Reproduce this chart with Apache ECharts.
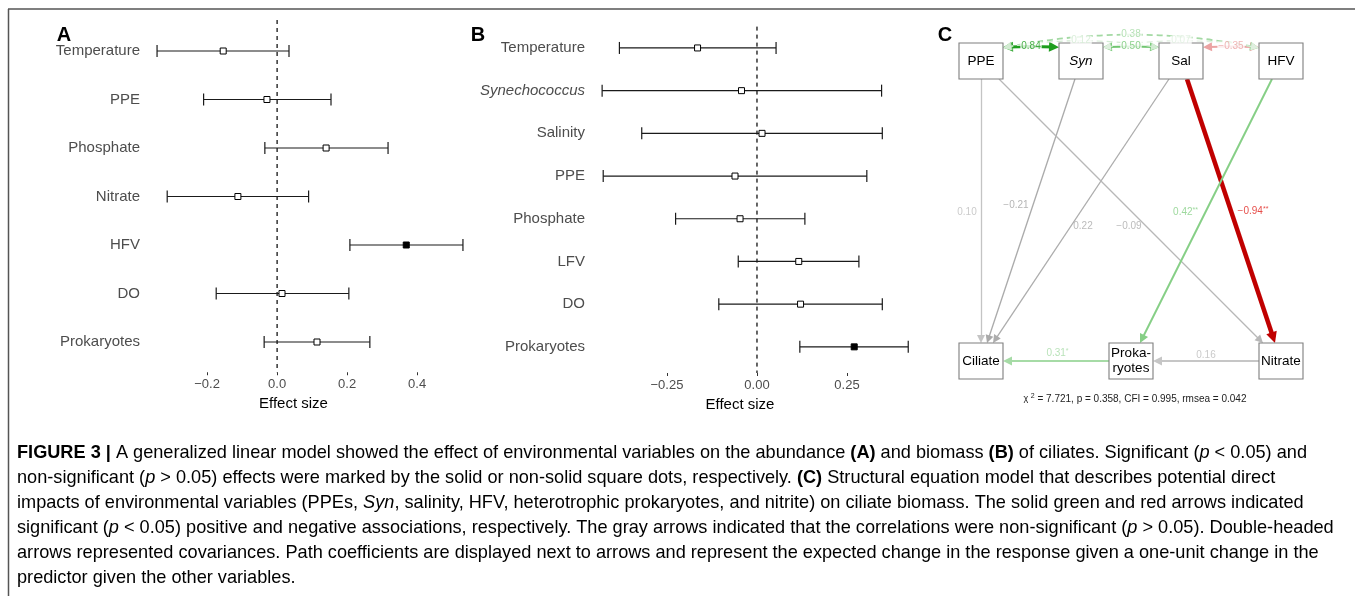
<!DOCTYPE html>
<html>
<head>
<meta charset="utf-8">
<script src="https://cdn.jsdelivr.net/npm/echarts@6/dist/echarts.min.js"></script>
<style>
html,body{margin:0;padding:0;background:#fff;}
#main{width:1355px;height:596px;}
</style>
</head>
<body>
<div id="main"></div>
<script>
// ---- panel A : GLM on ciliate abundance
var catsA = ['Temperature', 'PPE', 'Phosphate', 'Nitrate', 'HFV', 'DO', 'Prokaryotes'];
var lowA  = [-0.343, -0.210, -0.035, -0.314, 0.208, -0.174, -0.037];
var estA  = [-0.154, -0.029,  0.140, -0.112, 0.369,  0.014,  0.114];
var highA = [ 0.034,  0.154,  0.317,  0.090, 0.531,  0.205,  0.265];
var sigA  = [0, 0, 0, 0, 1, 0, 0];
var ticksA = [-0.2, 0, 0.2, 0.4];

// ---- panel B : GLM on ciliate biomass
var catsB = ['Temperature', 'Synechococcus', 'Salinity', 'PPE', 'Phosphate', 'LFV', 'DO', 'Prokaryotes'];
var lowB  = [-0.382, -0.430, -0.320, -0.427, -0.226, -0.052, -0.106, 0.119];
var estB  = [-0.165, -0.043,  0.014, -0.061, -0.047,  0.116,  0.121, 0.270];
var highB = [ 0.053,  0.346,  0.348,  0.305,  0.133,  0.283,  0.348, 0.420];
var sigB  = [0, 0, 0, 0, 0, 0, 0, 1];
var ticksB = [-0.25, 0, 0.25];

// ---- panel C : SEM
var nodeNames  = ['PPE', 'Syn', 'Sal', 'HFV', 'Ciliate', 'Prokaryotes', 'Nitrate'];
var nodeLabels = ['PPE', '{i|Syn}', 'Sal', 'HFV', 'Ciliate', 'Proka-\nryotes', 'Nitrate'];
var nodeX = [0, 1, 2, 3, 0, 1.5, 3];
var nodeY = [3, 3, 3, 3, 0, 0, 0];

var pathFrom  = ['PPE', 'Syn', 'Sal', 'PPE', 'Sal', 'HFV', 'Prokaryotes', 'Nitrate'];
var pathTo    = ['Ciliate', 'Ciliate', 'Ciliate', 'Nitrate', 'Nitrate', 'Prokaryotes', 'Ciliate', 'Prokaryotes'];
var pathCoef  = [0.10, -0.21, 0.22, -0.09, -0.94, 0.42, 0.31, 0.16];
var pathStars = ['', '', '', '', '**', '**', '*', ''];

var covFrom = ['PPE', 'Syn', 'Sal', 'PPE', 'PPE', 'Syn'];
var covTo   = ['Syn', 'Sal', 'HFV', 'HFV', 'Sal', 'HFV'];
var covCoef = [0.84, 0.50, -0.35, 0.38, 0.12, 0.07];

var fitStats = 'p = 0.358, CFI = 0.995, rmsea = 0.042';
var chiSq = '7.721';

// styles for the SEM edges (colour, width, arrow, label placement)
var pathStyle = [
  {c: '#c4c4c4', tc: '#bdbdbd', w: 1.3, a: 8, t: 0.503, dx: -14, dy: 0},
  {c: '#a9a9a9', tc: '#a3a3a3', w: 1.3, a: 8, t: 0.48, dx: -17, dy: 0},
  {c: '#adadad', tc: '#aaaaaa', w: 1.3, a: 8, t: 0.55, dx: 12, dy: 0},
  {c: '#b8b8b8', tc: '#aaaaaa', w: 1.3, a: 8, t: 0.55, dx: -17, dy: 0},
  {c: '#c00000', tc: '#e0201c', w: 4.5, a: 11, t: 0.5, dx: 22, dy: 0},
  {c: '#86cf86', tc: '#86cf86', w: 2, a: 9, t: 0.503, dx: -20, dy: 0},
  {c: '#a6dba6', tc: '#a6dba6', w: 2.2, a: 9, t: 0.49, dx: 0, dy: -8},
  {c: '#c6c6c6', tc: '#bbbbbb', w: 2, a: 9, t: 0.5, dx: 0, dy: -6}
];
var covStyle = [
  {c: '#1e9e1e', w: 3, a: 10, cv: 0.02, dash: 'solid'},
  {c: '#71c671', w: 2, a: 9, cv: 0.02, dash: 'solid'},
  {c: '#eba3a3', w: 2, a: 9, cv: 0.02, dash: 'solid'},
  {c: '#a3d9a3', w: 1.8, a: 9, cv: 0.1, dash: [6, 4]},
  {c: '#d3ebd3', w: 1.2, a: 8, cv: 0.085, dash: [6, 4]},
  {c: '#dfefdf', w: 1.2, a: 8, cv: 0.085, dash: [6, 4]}
];

var FONT = 'Liberation Sans, Arial, sans-serif';
var HW = 0.22, HH = 0.18, PX = 100; // half box size (axis units), px per unit

function fmtMinus(v, d) {
  return (v < 0 ? '\u2212' : '') + Math.abs(v).toFixed(d);
}

function axisX(gi, min, max, ticks, digits, offset, shift) {
  return {
    gridIndex: gi, type: 'value', min: min, max: max, offset: offset,
    splitLine: {show: false},
    axisLine: {lineStyle: {color: '#333', width: 1.1}},
    axisTick: {show: true, length: 3, customValues: ticks, lineStyle: {color: '#333'}},
    axisLabel: {
      customValues: ticks, fontSize: 13, color: '#4d4d4d', margin: 6,
      formatter: function (v) { return fmtMinus(v, digits); }
    },
    name: 'Effect size', nameLocation: 'middle', nameGap: 19,
    nameTextStyle: {fontSize: 15, color: '#000', padding: [0, shift, 0, 0]}
  };
}

function axisY(gi, cats) {
  return {
    gridIndex: gi, type: 'category', data: cats, inverse: true,
    axisLine: {show: false}, axisTick: {show: false}, splitLine: {show: false},
    axisLabel: {
      fontSize: 15, color: '#4d4d4d', margin: 2,
      formatter: function (v) { return v === 'Synechococcus' ? '{i|' + v + '}' : v; },
      rich: {i: {fontStyle: 'italic', fontSize: 15, color: '#4d4d4d'}}
    }
  };
}

function zeroLine(gi, ext) {
  return {
    type: 'custom', xAxisIndex: gi, yAxisIndex: gi, data: [[0, 0]], z: 1,
    renderItem: function (params, api) {
      var x = api.coord([0, 0])[0];
      var cs = params.coordSys;
      return {
        type: 'line',
        shape: {x1: x, y1: cs.y + ext[0], x2: x, y2: cs.y + cs.height + ext[1]},
        style: {stroke: '#000', lineWidth: 1.2, lineDash: [4, 4]}
      };
    }
  };
}

function errorBars(gi, cats, low, est, high, sig) {
  var data = cats.map(function (c, i) { return [i, low[i], est[i], high[i], sig[i]]; });
  return {
    type: 'custom', xAxisIndex: gi, yAxisIndex: gi, data: data, z: 2,
    encode: {x: [1, 2, 3], y: 0},
    renderItem: function (params, api) {
      var c = api.value(0);
      var p1 = api.coord([api.value(1), c]);
      var p2 = api.coord([api.value(2), c]);
      var p3 = api.coord([api.value(3), c]);
      var y = p1[1];
      var st = {stroke: '#1a1a1a', lineWidth: 1.2};
      return {
        type: 'group',
        children: [
          {type: 'line', shape: {x1: p1[0], y1: y, x2: p3[0], y2: y}, style: st},
          {type: 'line', shape: {x1: p1[0], y1: y - 6, x2: p1[0], y2: y + 6}, style: st},
          {type: 'line', shape: {x1: p3[0], y1: y - 6, x2: p3[0], y2: y + 6}, style: st},
          {type: 'rect', shape: {x: p2[0] - 3, y: y - 3, width: 6, height: 6},
            style: {fill: api.value(4) ? '#000' : '#fff', stroke: '#000', lineWidth: 1}}
        ]
      };
    }
  };
}

function nodePos(name) {
  var i = nodeNames.indexOf(name);
  return [nodeX[i], nodeY[i]];
}

// point where the centre-to-centre line leaves box a (plus extra px)
function borderPoint(a, b, extraPx) {
  var dx = b[0] - a[0], dy = b[1] - a[1];
  var t = Math.min(dx ? HW / Math.abs(dx) : Infinity, dy ? HH / Math.abs(dy) : Infinity);
  t += extraPx / PX / Math.sqrt(dx * dx + dy * dy);
  return [a[0] + dx * t, a[1] + dy * t];
}

var pathLines = [], edgeLabels = [];
pathFrom.forEach(function (f, i) {
  var a = nodePos(f), b = nodePos(pathTo[i]), s = pathStyle[i];
  pathLines.push({
    coords: [borderPoint(a, b, 0), borderPoint(b, a, s.a / 2)],
    symbolSize: s.a,
    lineStyle: {color: s.c, width: s.w, opacity: 1}
  });
  var lx = a[0] + (b[0] - a[0]) * s.t + s.dx / PX;
  var ly = a[1] + (b[1] - a[1]) * s.t - s.dy / PX;
  var txt = '{n|' + fmtMinus(pathCoef[i], 2) + '}' + (pathStars[i] ? '{s|' + pathStars[i] + '}' : '');
  edgeLabels.push({
    value: [lx, ly, txt],
    label: {rich: {n: {color: s.tc, fontSize: 10}, s: {color: s.tc, fontSize: 7, verticalAlign: 'top', lineHeight: 8}}}
  });
});

var covLines = [];
covFrom.forEach(function (f, i) {
  var a = nodePos(f), b = nodePos(covTo[i]), s = covStyle[i];
  var p1 = [a[0] + HW + s.a / 2 / PX, a[1] + 0.14];
  var p2 = [b[0] - HW - s.a / 2 / PX, b[1] + 0.14];
  covLines.push({
    coords: [p1, p2],
    symbolSize: s.a,
    lineStyle: {color: s.c, width: s.w, type: s.dash, curveness: s.cv, opacity: 1}
  });
  var cp = [(p1[0] + p2[0]) / 2 + (p1[1] - p2[1]) * s.cv, (p1[1] + p2[1]) / 2 + (p2[0] - p1[0]) * s.cv];
  var mx = 0.25 * p1[0] + 0.5 * cp[0] + 0.25 * p2[0];
  var my = 0.25 * p1[1] + 0.5 * cp[1] + 0.25 * p2[1];
  edgeLabels.push({
    value: [mx, my, '{n|' + fmtMinus(covCoef[i], 2) + '}'],
    label: {rich: {n: {color: s.c, fontSize: 10, backgroundColor: '#fff', padding: [0, 1]}}}
  });
});

var nodeData = nodeNames.map(function (n, i) { return [nodeX[i], nodeY[i], nodeLabels[i]]; });

// ---- caption
var captionLines = [
  [['b', 'FIGURE 3 |'], ['n', ' A generalized linear model showed the effect of environmental variables on the abundance '], ['b', '(A)'], ['n', ' and biomass '], ['b', '(B)'], ['n', ' of ciliates. Significant ('], ['i', 'p'], ['n', ' < 0.05) and']],
  [['n', 'non-significant ('], ['i', 'p'], ['n', ' > 0.05) effects were marked by the solid or non-solid square dots, respectively. '], ['b', '(C)'], ['n', ' Structural equation model that describes potential direct']],
  [['n', 'impacts of environmental variables (PPEs, '], ['i', 'Syn'], ['n', ', salinity, HFV, heterotrophic prokaryotes, and nitrite) on ciliate biomass. The solid green and red arrows indicated']],
  [['n', 'significant ('], ['i', 'p'], ['n', ' < 0.05) positive and negative associations, respectively. The gray arrows indicated that the correlations were non-significant ('], ['i', 'p'], ['n', ' > 0.05). Double-headed']],
  [['n', 'arrows represented covariances. Path coefficients are displayed next to arrows and represent the expected change in the response given a one-unit change in the']],
  [['n', 'predictor given the other variables.']]
];
var captionEnds = [1308, 1285, 1295, 1338, 1320];
var capFamily = '"Liberation Sans Narrow", "Liberation Sans", Arial, sans-serif';
var ctx = document.createElement('canvas').getContext('2d');
function segWidth(segs, size) {
  var w = 0;
  segs.forEach(function (s) {
    ctx.font = (s[0] === 'b' ? 'bold ' : s[0] === 'i' ? 'italic ' : '') + size + 'px ' + capFamily;
    w += ctx.measureText(s[1]).width;
  });
  return w;
}
var capSize = 0;
captionEnds.forEach(function (e, i) {
  capSize += 100 * (e - 17) / segWidth(captionLines[i], 100) / captionEnds.length;
});
var capRich = {
  n: {fontSize: capSize, fontFamily: capFamily, color: '#3a3a3a'},
  b: {fontSize: capSize, fontFamily: capFamily, color: '#222', fontWeight: 'bold'},
  i: {fontSize: capSize, fontFamily: capFamily, color: '#3a3a3a', fontStyle: 'italic'}
};

var graphics = [
  {type: 'line', shape: {x1: 8, y1: 9, x2: 1355, y2: 9}, style: {stroke: '#555', lineWidth: 1.5}},
  {type: 'line', shape: {x1: 8.5, y1: 9, x2: 8.5, y2: 596}, style: {stroke: '#555', lineWidth: 1.5}},
  {type: 'text', x: 64, y: 35, style: {text: 'A', font: 'bold 20px ' + FONT, fill: '#000', align: 'center', verticalAlign: 'middle'}},
  {type: 'text', x: 478, y: 35, style: {text: 'B', font: 'bold 20px ' + FONT, fill: '#000', align: 'center', verticalAlign: 'middle'}},
  {type: 'text', x: 945, y: 35, style: {text: 'C', font: 'bold 20px ' + FONT, fill: '#000', align: 'center', verticalAlign: 'middle'}},
  {type: 'text', x: 1135, y: 399, style: {
    text: '{g|\u03c7 }{u|2}{n| = ' + chiSq + ', ' + fitStats + '}',
    align: 'center', verticalAlign: 'middle',
    rich: {
      g: {fontSize: 9, fontFamily: FONT, fill: '#222'},
      u: {fontSize: 7, fontFamily: FONT, fill: '#222', verticalAlign: 'top', lineHeight: 12},
      n: {fontSize: 10, fontFamily: FONT, fill: '#222'}
    }
  }}
];
captionLines.forEach(function (segs, i) {
  graphics.push({
    type: 'text', x: 17, y: 453 + 25 * i,
    style: {
      text: segs.map(function (s) { return '{' + s[0] + '|' + s[1] + '}'; }).join(''),
      align: 'left', verticalAlign: 'middle', rich: capRich
    }
  });
});

var chart = echarts.init(document.getElementById('main'), null, {renderer: 'canvas'});
chart.setOption({
  animation: false,
  textStyle: {fontFamily: FONT},
  grid: [
    {left: 142, top: 26.75, width: 336, height: 339.5},
    {left: 587, top: 26.6, width: 336, height: 341.6},
    {left: 981, top: 61, width: 300, height: 300}
  ],
  xAxis: [
    axisX(0, -0.386, 0.574, ticksA, 1, 6, 33),
    axisX(1, -0.472, 0.461, ticksB, 2, 4.8, 30),
    {gridIndex: 2, type: 'value', min: 0, max: 3, show: false}
  ],
  yAxis: [
    axisY(0, catsA),
    axisY(1, catsB),
    {gridIndex: 2, type: 'value', min: 0, max: 3, show: false}
  ],
  graphic: graphics,
  series: [
    zeroLine(0, [-6.75, 6]),
    errorBars(0, catsA, lowA, estA, highA, sigA),
    zeroLine(1, [0, 4.8]),
    errorBars(1, catsB, lowB, estB, highB, sigB),
    {
      type: 'lines', coordinateSystem: 'cartesian2d', xAxisIndex: 2, yAxisIndex: 2, z: 2,
      clip: false, symbol: ['none', 'triangle'], data: pathLines
    },
    {
      type: 'lines', coordinateSystem: 'cartesian2d', xAxisIndex: 2, yAxisIndex: 2, z: 2,
      clip: false, symbol: ['triangle', 'triangle'], data: covLines
    },
    {
      type: 'scatter', xAxisIndex: 2, yAxisIndex: 2, z: 3, data: nodeData, clip: false,
      symbol: 'rect', symbolSize: [44, 36],
      itemStyle: {color: '#fff', borderColor: '#7f7f7f', borderWidth: 1, opacity: 1},
      label: {
        show: true, position: 'inside', color: '#000', fontSize: 13.5, lineHeight: 15,
        formatter: function (p) { return p.value[2]; },
        rich: {i: {fontStyle: 'italic', fontSize: 13.5, color: '#000'}}
      }
    },
    {
      type: 'scatter', xAxisIndex: 2, yAxisIndex: 2, z: 4, data: edgeLabels, clip: false,
      symbolSize: 0, silent: true,
      label: {show: true, position: 'inside', formatter: function (p) { return p.value[2]; }}
    }
  ]
});
</script>
</body>
</html>
